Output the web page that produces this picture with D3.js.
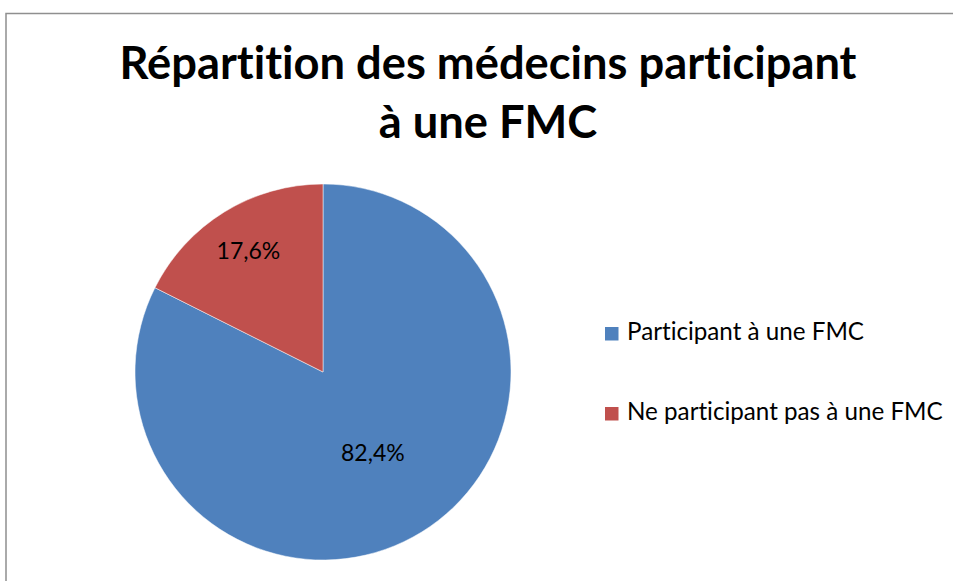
<!DOCTYPE html>
<html>
<head>
<meta charset="utf-8">
<script src="https://cdn.jsdelivr.net/npm/d3@7"></script>
<style>
  html, body { margin: 0; padding: 0; background: #ffffff; }
  svg text { font-family: Lato, "Open Sans", sans-serif; font-variant-ligatures: none; }
</style>
</head>
<body>
<div id="chart"></div>
<script>
const width = 953;
const height = 581;

// data
const categories = ["Participant à une FMC", "Ne participant pas à une FMC"];
const values = [82.4, 17.6];
const valueLabels = ["82,4%", "17,6%"];
const titleLines = ["Répartition des médecins participant", "à une FMC"];

const colors = ["#4F81BD", "#C0504D"];
const labelRadius = [0.505, 0.755];

const cx = 323;
const cy = 372;
const radius = 188;

const svg = d3.select("#chart")
  .append("svg")
  .attr("width", width)
  .attr("height", height)
  .attr("viewBox", `0 0 ${width} ${height}`);

// background + chart border (runs off the right and bottom edge)
svg.append("rect")
  .attr("x", 0).attr("y", 0)
  .attr("width", width).attr("height", height)
  .attr("fill", "#ffffff");
svg.append("rect")
  .attr("x", 6).attr("y", 13.5)
  .attr("width", width + 20).attr("height", height + 20)
  .attr("fill", "none")
  .attr("stroke", "#8f8f8f")
  .attr("stroke-width", 1.5);

// font size that makes a text fit a given width
function fittedSize(sel, target) {
  const w = sel.node().getComputedTextLength();
  const fs = parseFloat(sel.style("font-size"));
  return (fs * target / w) + "px";
}

// title
const title = svg.append("text")
  .attr("text-anchor", "middle")
  .attr("fill", "#000000")
  .style("font-weight", "bold")
  .style("font-size", "36px");
title.selectAll("tspan")
  .data(titleLines)
  .join("tspan")
  .attr("x", 488)
  .attr("y", (d, i) => 79 + i * 59)
  .text(d => d);
title.style("font-size", fittedSize(title.select("tspan"), 737));

// pie
const pie = d3.pie().sort(null).value(d => d);
const arc = d3.arc().innerRadius(0).outerRadius(radius);
const arcs = pie(values);

const g = svg.append("g").attr("transform", `translate(${cx},${cy})`);
g.selectAll("path")
  .data(arcs)
  .join("path")
  .attr("d", arc)
  .attr("fill", (d, i) => colors[i])
  .attr("stroke", "#ffffff")
  .attr("stroke-width", 0.5);

// data labels
g.selectAll("text.label")
  .data(arcs)
  .join("text")
  .attr("class", "label")
  .attr("transform", (d, i) => {
    const r = radius * labelRadius[i];
    const a = (d.startAngle + d.endAngle) / 2;
    return `translate(${Math.sin(a) * r},${-Math.cos(a) * r})`;
  })
  .attr("dy", "0.35em")
  .attr("text-anchor", "middle")
  .attr("fill", "#000000")
  .style("font-size", "23px")
  .text((d, i) => valueLabels[i]);

// legend
const legend = svg.append("g");
const items = legend.selectAll("g")
  .data(categories)
  .join("g")
  .attr("transform", (d, i) => `translate(605,${327 + i * 80})`);
items.append("rect")
  .attr("width", 13.5)
  .attr("height", 13.5)
  .attr("fill", (d, i) => colors[i]);
const legendText = items.append("text")
  .attr("x", 22)
  .attr("y", 13)
  .attr("fill", "#000000")
  .style("font-size", "20px")
  .text(d => d);
const longest = legendText.filter((d, i) => i === 1);
legendText.style("font-size", fittedSize(longest, 316));
</script>
</body>
</html>
